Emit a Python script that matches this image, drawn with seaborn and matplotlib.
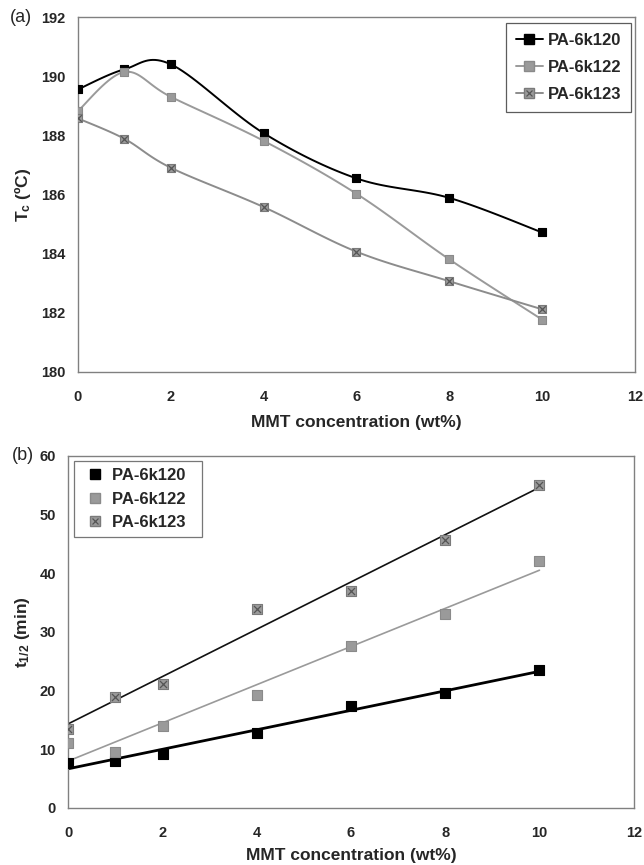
import numpy as np
import pandas as pd
import seaborn as sns
import matplotlib.pyplot as plt
from matplotlib.lines import Line2D

# MMT loading (wt%)
mmt = [0, 1, 2, 4, 6, 8, 10]

# (a) crystallization temperature Tc (C)
tc_120 = [189.56, 190.24, 190.41, 188.08, 186.55, 185.89, 184.72]
tc_122 = [188.83, 190.15, 189.31, 187.82, 186.03, 183.81, 181.77]
tc_123 = [188.58, 187.89, 186.91, 185.58, 184.07, 183.07, 182.12]

# (b) half time of crystallization t1/2 (min)
th_120 = [7.67, 7.95, 9.26, 12.78, 17.44, 19.6, 23.47]
th_122 = [11.08, 9.49, 14.03, 19.32, 27.67, 33.07, 42.1]
th_123 = [13.47, 18.92, 21.19, 33.98, 36.93, 45.74, 55.0]

names = ["PA-6k120", "PA-6k122", "PA-6k123"]

sns.set_style("white")
plt.rcParams['font.family'] = ['Liberation Sans', 'DejaVu Sans']
plt.rcParams['mathtext.fontset'] = 'custom'
plt.rcParams['mathtext.rm'] = 'Liberation Sans:bold'
plt.rcParams['mathtext.bf'] = 'Liberation Sans:bold'
plt.rcParams['mathtext.it'] = 'Liberation Sans:bold'


def smooth(x, y, n=20):
    # excel-style smoothed line: bezier segments with 1/6 tangents
    p = np.column_stack([x, y]).astype(float)
    p = np.vstack([p[0], p, p[-1]])
    out = []
    t = np.linspace(0, 1, n)[:, None]
    for i in range(1, len(p) - 2):
        b0 = p[i]
        b1 = p[i] + (p[i + 1] - p[i - 1]) / 6
        b2 = p[i + 1] - (p[i + 2] - p[i]) / 6
        b3 = p[i + 1]
        seg = (1 - t) ** 3 * b0 + 3 * (1 - t) ** 2 * t * b1 + 3 * (1 - t) * t ** 2 * b2 + t ** 3 * b3
        out.append(seg)
    s = np.vstack(out)
    return s[:, 0], s[:, 1]


def style_axes(ax):
    for sp in ax.spines.values():
        sp.set_color("#808080")
        sp.set_linewidth(1.0)
    ax.tick_params(direction="out", length=4, width=1, color="#808080",
                   labelsize=10.5)
    ax.tick_params(axis="x", pad=9)
    ax.tick_params(axis="y", pad=5)
    for lab in ax.get_xticklabels() + ax.get_yticklabels():
        lab.set_fontweight("bold")


fig = plt.figure(figsize=(6.44, 8.65), dpi=100)
ax1 = fig.add_axes([0.121, 0.570, 0.865, 0.410])
ax2 = fig.add_axes([0.106, 0.066, 0.878, 0.407])

line_cols = ["#000000", "#9a9a9a", "#8c8c8c"]
mk_face = ["#000000", "#9a9a9a", "#9a9a9a"]
mk_edge = ["#000000", "#8a8a8a", "#7a7a7a"]

# ---- (a) ----
for ys, lc, fc, ec in zip([tc_120, tc_122, tc_123], line_cols, mk_face, mk_edge):
    sx, sy = smooth(mmt, ys)
    sns.lineplot(x=sx, y=sy, ax=ax1, color=lc, lw=1.4, sort=False, estimator=None)
    sns.scatterplot(x=mmt, y=ys, ax=ax1, marker="s", s=40, color=fc,
                    edgecolor=ec, linewidth=0.8, zorder=3)
sns.scatterplot(x=mmt, y=tc_123, ax=ax1, marker="x", s=22, color="#555555",
                linewidth=0.9, zorder=4)

ax1.set_xlim(0, 12)
ax1.set_ylim(180, 192)
ax1.set_xticks(range(0, 13, 2))
ax1.set_yticks(range(180, 193, 2))
ax1.set_xlabel("MMT concentration (wt%)", fontsize=12.5, fontweight="bold", labelpad=8)
ax1.set_ylabel(r"T$_{\mathregular{c}}$ (ºC)", fontsize=12.5, fontweight="bold", labelpad=6)
style_axes(ax1)

h1 = [
    Line2D([], [], color=line_cols[0], lw=1.4, marker="s", ms=6.5, mfc=mk_face[0], mec=mk_edge[0]),
    Line2D([], [], color=line_cols[1], lw=1.4, marker="s", ms=6.5, mfc=mk_face[1], mec=mk_edge[1]),
    (Line2D([], [], color=line_cols[2], lw=1.4, marker="s", ms=6.5, mfc=mk_face[2], mec=mk_edge[2]),
     Line2D([], [], ls="none", marker="x", ms=4.5, color="#555555", mew=0.9)),
]
leg1 = ax1.legend(h1, names, loc="upper right", bbox_to_anchor=(0.993, 0.983),
                  borderaxespad=0,
                  prop={"weight": "bold", "size": 12}, frameon=True, fancybox=False,
                  edgecolor="#333333", handlelength=1.6, handletextpad=0.3,
                  labelspacing=0.7, borderpad=0.6)
leg1.get_frame().set_linewidth(0.9)
ax1.text(-0.122, 1.0, "(a)", transform=ax1.transAxes, fontsize=13, va="center", ha="left")

# ---- (b) ----
fit_cols = ["#000000", "#9a9a9a", "#111111"]
fit_lw = [2.0, 1.2, 1.2]
for ys, fc, ec, fcol, flw in zip([th_120, th_122, th_123], mk_face, mk_edge, fit_cols, fit_lw):
    sns.regplot(x=mmt, y=ys, ax=ax2, ci=None, scatter=False,
                line_kws={"color": fcol, "lw": flw})
    sns.scatterplot(x=mmt, y=ys, ax=ax2, marker="s", s=48, color=fc,
                    edgecolor=ec, linewidth=0.8, zorder=3)
sns.scatterplot(x=mmt, y=th_123, ax=ax2, marker="x", s=26, color="#555555",
                linewidth=0.9, zorder=4)

ax2.set_xlim(0, 12)
ax2.set_ylim(0, 60)
ax2.set_xticks(range(0, 13, 2))
ax2.set_yticks(range(0, 61, 10))
ax2.set_xlabel("MMT concentration (wt%)", fontsize=12.5, fontweight="bold", labelpad=6)
ax2.set_ylabel(r"t$_{\mathregular{1/2}}$ (min)", fontsize=12.5, fontweight="bold", labelpad=5)
style_axes(ax2)

h2 = [
    Line2D([], [], ls="none", marker="s", ms=6.5, mfc=mk_face[0], mec=mk_edge[0]),
    Line2D([], [], ls="none", marker="s", ms=6.5, mfc=mk_face[1], mec=mk_edge[1]),
    (Line2D([], [], ls="none", marker="s", ms=6.5, mfc=mk_face[2], mec=mk_edge[2]),
     Line2D([], [], ls="none", marker="x", ms=4.5, color="#555555", mew=0.9)),
]
leg2 = ax2.legend(h2, [n + "  " for n in names], loc="upper left", bbox_to_anchor=(0.011, 0.986),
                  borderaxespad=0,
                  prop={"weight": "bold", "size": 12}, frameon=True, fancybox=False,
                  edgecolor="#555555", handlelength=1.6, handletextpad=0.2,
                  labelspacing=0.5, borderpad=0.45)
leg2.get_frame().set_linewidth(0.9)
ax2.text(-0.099, 1.0, "(b)", transform=ax2.transAxes, fontsize=13, va="center", ha="left")

fig.savefig("out.png", dpi=100)
